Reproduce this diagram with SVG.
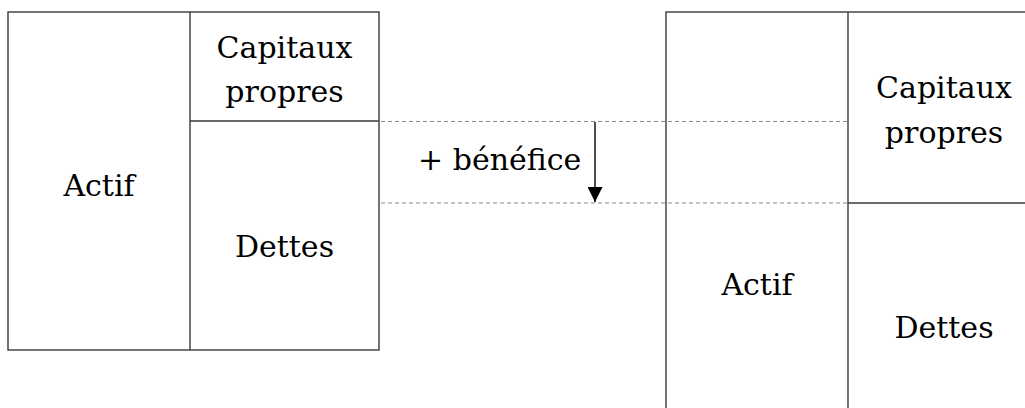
<svg xmlns="http://www.w3.org/2000/svg" width="1025" height="408" viewBox="0 0 1025 408">
<style>
.box{fill:none;stroke:#3a3a3a;stroke-width:1.4}
.ln{stroke:#3a3a3a;stroke-width:1.4}
.dash{stroke:#8a8a8a;stroke-width:1;stroke-dasharray:4 3}
text{font-family:'DejaVu Serif','Liberation Serif',serif;font-size:30px;fill:#000}
.t{text-anchor:middle}
</style>
<defs>
<marker id="ah" viewBox="0 0 10 10" refX="10" refY="5" markerWidth="15" markerHeight="15" markerUnits="userSpaceOnUse" orient="auto">
<path d="M0,0 L10,5 L0,10 z" fill="#000"/>
</marker>
</defs>
<rect width="1025" height="408" fill="#fff"/>
<g id="bilan-avant">
<rect class="box" x="8" y="12" width="371" height="338"/>
<line class="ln" x1="190" y1="12" x2="190" y2="350"/>
<line class="ln" x1="190" y1="121" x2="379" y2="121"/>
<text class="t" x="99" y="196">Actif</text>
<text class="t" x="284.5" y="58">Capitaux</text>
<text class="t" x="284.5" y="102">propres</text>
<text class="t" x="284.5" y="257">Dettes</text>
</g>
<g id="bilan-apres">
<rect class="box" x="666" y="12" width="374" height="420"/>
<line class="ln" x1="848" y1="12" x2="848" y2="420"/>
<line class="ln" x1="848" y1="203" x2="1040" y2="203"/>
<text class="t" x="757" y="295">Actif</text>
<text class="t" x="944" y="98">Capitaux</text>
<text class="t" x="944" y="143">propres</text>
<text class="t" x="944" y="338">Dettes</text>
</g>
<g id="connectors">
<line class="dash" x1="381" y1="121.5" x2="848" y2="121.5"/>
<line class="dash" x1="381" y1="203" x2="848" y2="203"/>
<line x1="595" y1="122" x2="595" y2="202" stroke="#000" stroke-width="1.4" marker-end="url(#ah)"/>
</g>
<g id="label-benefice">
<text x="418" y="170">+ bénéfice</text>
</g>
</svg>
